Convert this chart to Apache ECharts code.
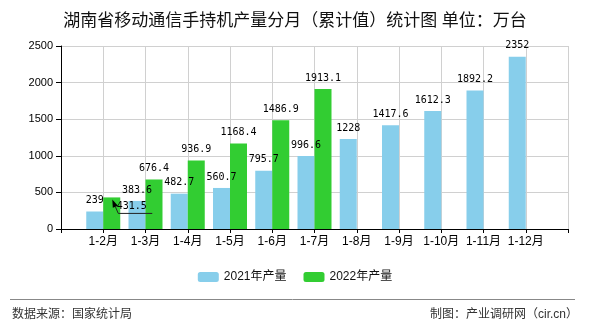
<!DOCTYPE html>
<html>
<head>
<meta charset="utf-8">
<script src="https://cdn.jsdelivr.net/npm/echarts@6/dist/echarts.min.js"></script>
<style>
  html, body { margin: 0; padding: 0; background: #fff; }
  #chart { width: 590px; height: 330px; }
</style>
</head>
<body>
<div id="chart"></div>
<script>
// Monthly cumulative output (10k units)
const months = ['1-2月', '1-3月', '1-4月', '1-5月', '1-6月', '1-7月', '1-8月', '1-9月', '1-10月', '1-11月', '1-12月'];
const output2021 = [239, 383.6, 482.7, 560.7, 795.7, 996.6, 1228, 1417.6, 1612.3, 1892.2, 2352];
const output2022 = [431.5, 676.4, 936.9, 1168.4, 1486.9, 1913.1];
const yTicks = { min: 0, max: 2500, interval: 500 };

// Bars sit on the ticks; an empty slot pads each end of the axis
const categories = [''].concat(months, ['']);
const pad = (arr) => [null].concat(months.map((_, i) => (i < arr.length ? arr[i] : null)), [null]);
const data2021 = pad(output2021);
const data2022 = pad(output2022).map((v, i) =>
  i === 1 ? { value: v, label: { offset: [20, 20] } } : v
);

const CJK = '"Liberation Sans", "Noto Sans CJK SC", sans-serif';
const MONO = '"DejaVu Sans Mono", "Noto Sans CJK SC", monospace';

const chart = echarts.init(document.getElementById('chart'), null, { renderer: 'canvas' });

const valueLabel = {
  show: true,
  position: 'top',
  distance: 6,
  color: '#000',
  fontFamily: MONO,
  fontSize: 10
};

chart.setOption({
  animation: false,
  backgroundColor: '#fff',
  title: {
    text: '湖南省移动通信手持机产量分月（累计值）统计图 单位：万台',
    left: 'center',
    top: 8,
    textStyle: { fontFamily: CJK, fontSize: 17, fontWeight: 'normal', color: '#111' }
  },
  legend: {
    bottom: 42,
    left: 'center',
    itemWidth: 21,
    itemHeight: 10,
    itemGap: 17,
    textStyle: { fontFamily: CJK, fontSize: 12, color: '#111' },
    data: ['2021年产量', '2022年产量']
  },
  grid: { left: 61, right: 22, top: 46, bottom: 101, containLabel: false },
  xAxis: {
    type: 'category',
    data: categories,
    boundaryGap: false,
    axisLine: { lineStyle: { color: '#000', width: 1 } },
    axisTick: { show: true, length: 4, lineStyle: { color: '#000' } },
    axisLabel: { interval: 0, color: '#000', fontFamily: CJK, fontSize: 12, margin: 7 },
    splitLine: { show: true, lineStyle: { color: '#d0d0d0', width: 1 } }
  },
  yAxis: {
    type: 'value',
    min: yTicks.min,
    max: yTicks.max,
    interval: yTicks.interval,
    axisLine: { show: true, lineStyle: { color: '#000', width: 1 } },
    axisTick: { show: true, length: 5, lineStyle: { color: '#000' } },
    axisLabel: { color: '#000', fontFamily: CJK, fontSize: 11, margin: 8, formatter: (v) => String(v) },
    splitLine: { show: true, lineStyle: { color: '#d0d0d0', width: 1 } }
  },
  series: [
    {
      name: '2021年产量',
      type: 'bar',
      data: data2021,
      barWidth: 17,
      barGap: '0%',
      itemStyle: { color: '#87CEEB' },
      label: valueLabel
    },
    {
      name: '2022年产量',
      type: 'bar',
      data: data2022,
      barWidth: 17,
      barGap: '0%',
      itemStyle: { color: '#32CD32' },
      label: valueLabel
    }
  ]
});

// Callout arrow for the moved 1-2月 (2022) label, anchored to the bar top
const barTop = chart.convertToPixel({ xAxisIndex: 0, yAxisIndex: 0 }, [months[0], output2022[0]]);
const tip = [barTop[0] + 9, barTop[1] + 2];
const knee = [tip[0] + 6, tip[1] + 14];
const tail = [tip[0] + 40, tip[1] + 14];
const dir = [knee[0] - tip[0], knee[1] - tip[1]];
const len = Math.hypot(dir[0], dir[1]);
const ux = dir[0] / len, uy = dir[1] / len;
const headLen = 8, headHalf = 2.8;
const base = [tip[0] + ux * headLen, tip[1] + uy * headLen];

chart.setOption({
  graphic: [
    {
      type: 'polyline',
      shape: { points: [base, knee, tail] },
      style: { stroke: '#222', lineWidth: 1, fill: null },
      z: 100
    },
    {
      type: 'polygon',
      shape: {
        points: [
          tip,
          [base[0] - uy * headHalf, base[1] + ux * headHalf],
          [base[0] + uy * headHalf, base[1] - ux * headHalf]
        ]
      },
      style: { fill: '#000' },
      z: 100
    },
    {
      type: 'line',
      shape: { x1: 10, y1: 299.5, x2: 575, y2: 299.5 },
      style: { stroke: '#888', lineWidth: 1 }
    },
    {
      type: 'text',
      left: 12,
      top: 309,
      style: { text: '数据来源：国家统计局', fill: '#333', font: '12px ' + CJK }
    },
    {
      type: 'text',
      right: 12,
      top: 309,
      style: { text: '制图：产业调研网（cir.cn）', fill: '#333', font: '12px ' + CJK }
    }
  ]
});
</script>
</body>
</html>
